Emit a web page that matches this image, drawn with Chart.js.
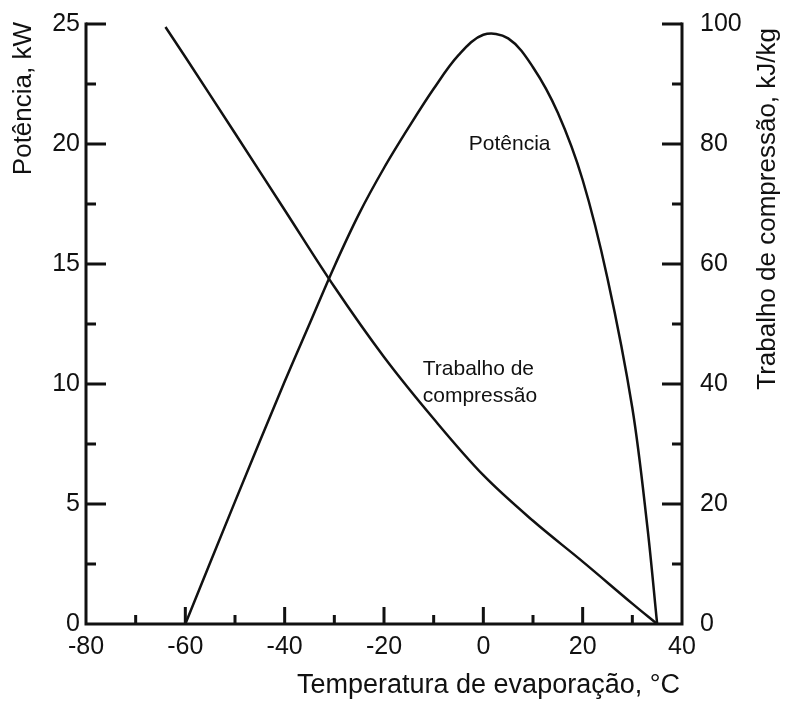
<!DOCTYPE html>
<html>
<head>
<meta charset="utf-8">
<title>Potência e trabalho de compressão</title>
<script src="https://cdn.jsdelivr.net/npm/chart.js@4/dist/chart.umd.min.js"></script>
<style>
  html, body { margin: 0; padding: 0; background: #fff; }
  canvas { display: block; }
</style>
</head>
<body>
<canvas id="chart" width="787" height="708"></canvas>
<script>
// === Data ===
// Potência (kW, left axis) vs temperatura de evaporação (°C)
const potTemp = [-60, -50, -40, -35, -30, -25, -20, -15, -10, -5, 0, 5, 10, 15, 20, 25, 30, 33, 35];
const potKW = [0, 5.1, 10.1, 12.5, 14.9, 17.1, 19.0, 20.7, 22.3, 23.7, 24.55, 24.4, 23.2, 21.3, 18.5, 14.4, 9.0, 4.1, 0];

// Trabalho de compressão (kJ/kg, right axis)
const trabTemp = [-64, -60, -50, -40, -30, -20, -10, 0, 10, 20, 30, 35];
const trabKJ = [99.5, 94.5, 81.8, 69, 56.2, 44.5, 34.2, 24.8, 17.2, 10.4, 3.4, 0];

// === Tick values ===
const tempTicks = [-80, -60, -40, -20, 0, 20, 40];
const tempMinor = [-70, -50, -30, -10, 10, 30];
const powerTicks = [0, 5, 10, 15, 20, 25];
const powerMinor = [2.5, 7.5, 12.5, 17.5, 22.5];
const workTicks = [0, 20, 40, 60, 80, 100];
const workMinor = [10, 30, 50, 70, 90];

// === Text ===
const xTitle = "Temperatura de evaporação, °C";
const yTitle = "Potência, kW";
const y2Title = "Trabalho de compressão, kJ/kg";

const INK = "#111";
const FONT = "'Liberation Sans', Arial, Helvetica, sans-serif";

const toPoints = (xs, ys) => xs.map((x, i) => ({ x, y: ys[i] }));
const setTicks = (vals) => (scale) => {
  scale.ticks = vals.map((v) => ({ value: v }));
};
// fixed axis box sizes so the plot area sits where it does in the figure
const fitWidth = (w) => (s) => {
  s.width = w;
  s.paddingTop = 0;
  s.paddingBottom = 0;
};

// === Axis lines, inward ticks, titles and curve labels ===
const framePlugin = {
  id: "frame",
  afterDraw(chart) {
    const { ctx, chartArea: a, scales } = chart;
    const x = scales.x, y = scales.y, y2 = scales.y2;
    ctx.save();
    ctx.strokeStyle = INK;
    ctx.lineWidth = 3;
    ctx.lineCap = "square";

    // axis lines
    ctx.beginPath();
    ctx.moveTo(a.left, y.getPixelForValue(25));
    ctx.lineTo(a.left, a.bottom);
    ctx.lineTo(a.right, a.bottom);
    ctx.lineTo(a.right, y2.getPixelForValue(100));
    ctx.stroke();

    ctx.lineCap = "butt";
    ctx.beginPath();
    powerTicks.filter((v) => v > 0).forEach((v) => {
      const p = y.getPixelForValue(v);
      ctx.moveTo(a.left, p); ctx.lineTo(a.left + 20, p);
    });
    powerMinor.forEach((v) => {
      const p = y.getPixelForValue(v);
      ctx.moveTo(a.left, p); ctx.lineTo(a.left + 10, p);
    });
    workTicks.filter((v) => v > 0).forEach((v) => {
      const p = y2.getPixelForValue(v);
      ctx.moveTo(a.right, p); ctx.lineTo(a.right - 20, p);
    });
    workMinor.forEach((v) => {
      const p = y2.getPixelForValue(v);
      ctx.moveTo(a.right, p); ctx.lineTo(a.right - 10, p);
    });
    tempTicks.filter((v) => v > -80 && v < 40).forEach((v) => {
      const p = x.getPixelForValue(v);
      ctx.moveTo(p, a.bottom); ctx.lineTo(p, a.bottom - 17);
    });
    tempMinor.forEach((v) => {
      const p = x.getPixelForValue(v);
      ctx.moveTo(p, a.bottom); ctx.lineTo(p, a.bottom - 9);
    });
    ctx.stroke();

    // axis titles
    ctx.fillStyle = INK;
    ctx.font = `26px ${FONT}`;
    ctx.textBaseline = "middle";

    ctx.save();
    ctx.translate(24, a.top - 2);
    ctx.rotate(-Math.PI / 2);
    ctx.textAlign = "right";
    ctx.fillText(yTitle, 0, 0);
    ctx.restore();

    ctx.save();
    ctx.translate(768, a.top + 4);
    ctx.rotate(-Math.PI / 2);
    ctx.textAlign = "right";
    ctx.fillText(y2Title, 0, 0);
    ctx.restore();

    ctx.font = `27px ${FONT}`;
    ctx.textAlign = "right";
    ctx.fillText(xTitle, a.right - 2, 686);

    // curve labels
    ctx.font = `21px ${FONT}`;
    ctx.textAlign = "center";
    ctx.fillText("Potência", x.getPixelForValue(5.3), y.getPixelForValue(20.0));
    ctx.textAlign = "left";
    ctx.fillText("Trabalho de", x.getPixelForValue(-12.2), y.getPixelForValue(10.6));
    ctx.fillText("compressão", x.getPixelForValue(-12.2), y.getPixelForValue(9.5));
    ctx.restore();
  },
};

const tickFont = { family: FONT, size: 25 };

new Chart(document.getElementById("chart"), {
  type: "line",
  data: {
    datasets: [
      {
        label: "Potência",
        data: toPoints(potTemp, potKW),
        yAxisID: "y",
        borderColor: INK,
        borderWidth: 2.5,
        pointRadius: 0,
        fill: false,
        tension: 0.35,
      },
      {
        label: "Trabalho de compressão",
        data: toPoints(trabTemp, trabKJ),
        yAxisID: "y2",
        borderColor: INK,
        borderWidth: 2.5,
        pointRadius: 0,
        fill: false,
        tension: 0.35,
      },
    ],
  },
  options: {
    responsive: false,
    animation: false,
    devicePixelRatio: 1,
    layout: { padding: { top: 24, left: 0, right: 0, bottom: 0 } },
    plugins: { legend: { display: false }, tooltip: { enabled: false } },
    scales: {
      x: {
        type: "linear",
        min: -80,
        max: 40,
        afterBuildTicks: setTicks(tempTicks),
        afterFit: (s) => { s.height = 84; },
        grid: { display: false, drawTicks: false },
        border: { display: false },
        ticks: { font: tickFont, color: INK, padding: 8, maxRotation: 0, autoSkip: false },
      },
      y: {
        position: "left",
        min: 0,
        max: 25,
        afterBuildTicks: setTicks(powerTicks),
        afterFit: fitWidth(86),
        grid: { display: false, drawTicks: false },
        border: { display: false },
        ticks: { font: tickFont, color: INK, padding: 6 },
      },
      y2: {
        position: "right",
        min: 0,
        max: 100,
        afterBuildTicks: setTicks(workTicks),
        afterFit: fitWidth(105),
        grid: { display: false, drawTicks: false },
        border: { display: false },
        ticks: { font: tickFont, color: INK, padding: 18 },
      },
    },
  },
  plugins: [framePlugin],
});
</script>
</body>
</html>
